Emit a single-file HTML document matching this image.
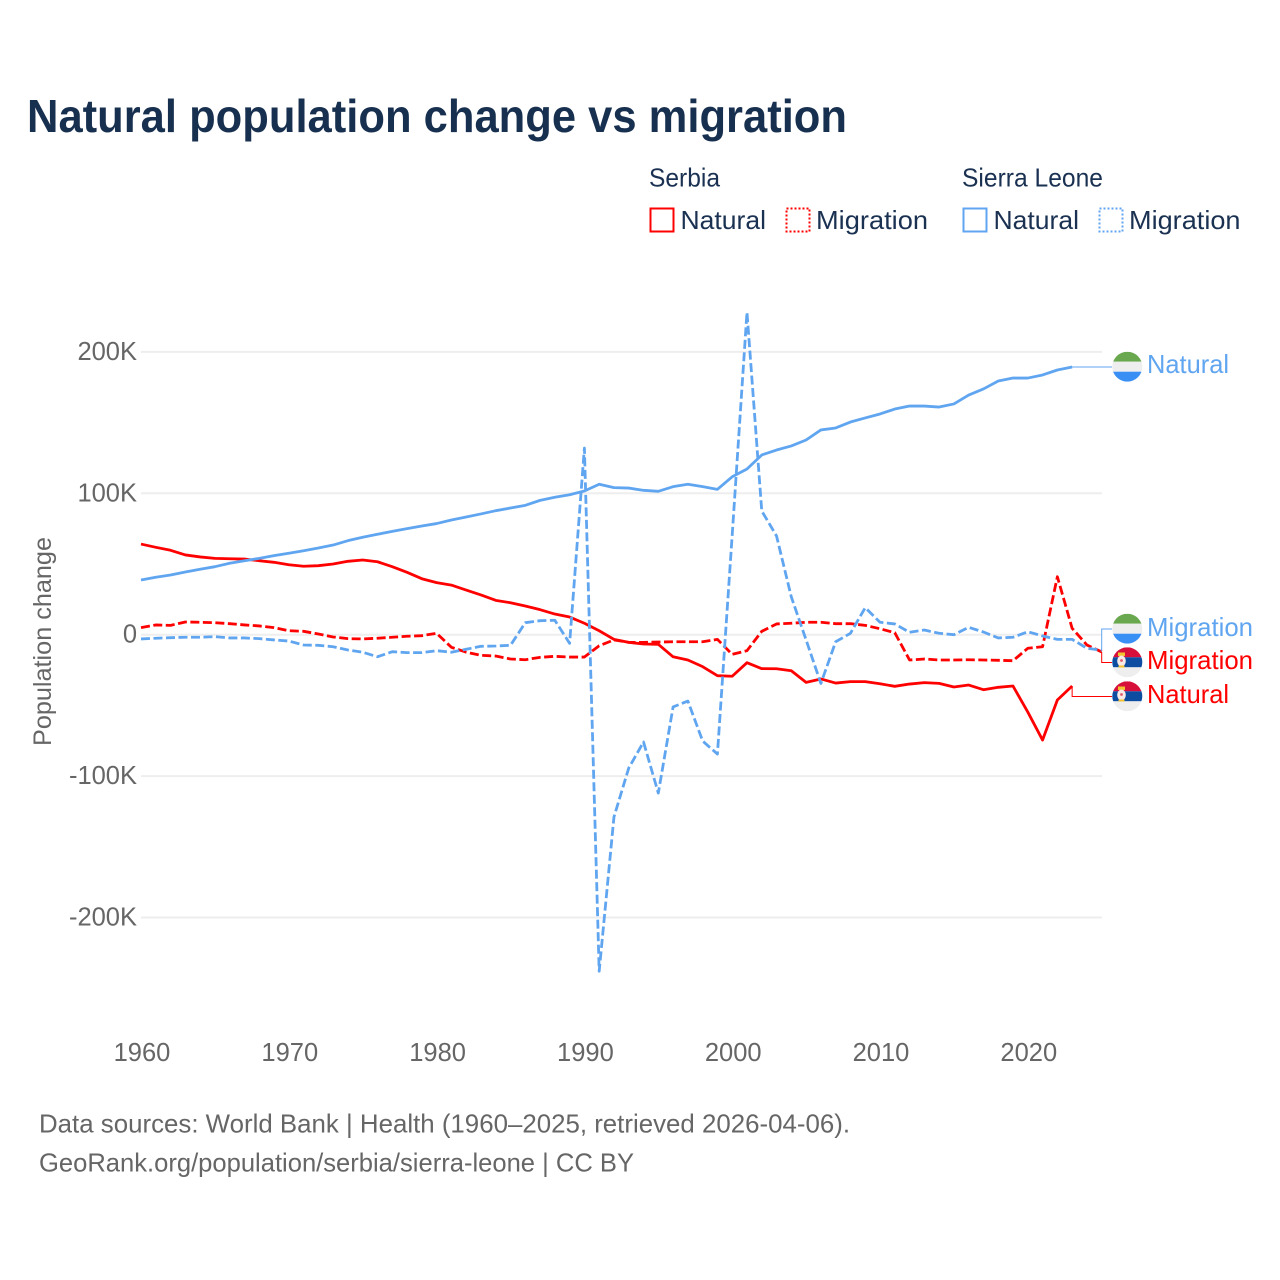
<!DOCTYPE html>
<html lang="en">
<head>
<meta charset="utf-8">
<title>Natural population change vs migration</title>
<style>
html,body{margin:0;padding:0;background:#fff;width:1280px;height:1280px;overflow:hidden}
svg{display:block}
text{font-family:"Liberation Sans",sans-serif}
</style>
</head>
<body>
<svg id="chart" xmlns="http://www.w3.org/2000/svg" width="1280" height="1280" viewBox="0 0 1280 1280">
  <defs>
    <clipPath id="clip-a"><circle cx="1127.3" cy="366.7" r="15"/></clipPath>
    <clipPath id="clip-b"><circle cx="1127.3" cy="628.7" r="15"/></clipPath>
    <clipPath id="clip-c"><circle cx="1127.3" cy="662.3" r="15"/></clipPath>
    <clipPath id="clip-d"><circle cx="1127.3" cy="696.3" r="15"/></clipPath>
  </defs>
  <rect x="0" y="0" width="1280" height="1280" fill="#ffffff"/>
  <text x="27" y="132" font-size="46.5" font-weight="700" fill="#18304f" textLength="820" lengthAdjust="spacingAndGlyphs">Natural population change vs migration</text>

  <g font-size="26" fill="#1a3152">
    <text x="649" y="186.5" textLength="71" lengthAdjust="spacingAndGlyphs">Serbia</text>
    <text x="962" y="186.5" textLength="141" lengthAdjust="spacingAndGlyphs">Sierra Leone</text>
    <g>
      <rect x="650.5" y="208.5" width="23" height="23" fill="none" stroke="#ff0000" stroke-width="2"/>
      <text x="680.5" y="229" textLength="85.5" lengthAdjust="spacingAndGlyphs">Natural</text>
    </g>
    <g>
      <rect x="786.5" y="208.5" width="23" height="23" fill="none" stroke="#ff0000" stroke-width="2" stroke-dasharray="2,2"/>
      <text x="816" y="229" textLength="112" lengthAdjust="spacingAndGlyphs">Migration</text>
    </g>
    <g>
      <rect x="963.5" y="208.5" width="23" height="23" fill="none" stroke="#60a5f0" stroke-width="2"/>
      <text x="993.5" y="229" textLength="85.5" lengthAdjust="spacingAndGlyphs">Natural</text>
    </g>
    <g>
      <rect x="1099.5" y="208.5" width="23" height="23" fill="none" stroke="#60a5f0" stroke-width="2" stroke-dasharray="2,2"/>
      <text x="1129" y="229" textLength="111.5" lengthAdjust="spacingAndGlyphs">Migration</text>
    </g>
  </g>

  <text transform="translate(51,746) rotate(-90)" font-size="25" fill="#666666" textLength="209" lengthAdjust="spacingAndGlyphs">Population change</text>

  <g id="grid"></g>
  <g id="yticks"></g>
  <g id="xticks"></g>
  <g id="leaders"></g>
  <g id="series"></g>

  <g clip-path="url(#clip-a)">
    <rect x="1112" y="351.7" width="31" height="10" fill="#6aa84f"/>
    <rect x="1112" y="361.7" width="31" height="10" fill="#eeeeee"/>
    <rect x="1112" y="371.7" width="31" height="10" fill="#3a8ff5"/>
  </g>
  <g clip-path="url(#clip-b)">
    <rect x="1112" y="613.7" width="31" height="10" fill="#6aa84f"/>
    <rect x="1112" y="623.7" width="31" height="10" fill="#eeeeee"/>
    <rect x="1112" y="633.7" width="31" height="10" fill="#3a8ff5"/>
  </g>
  <g clip-path="url(#clip-c)">
    <rect x="1112" y="647.3" width="31" height="10" fill="#d6103a"/>
    <rect x="1112" y="657.3" width="31" height="10" fill="#0c4da2"/>
    <rect x="1112" y="667.3" width="31" height="10" fill="#eeeeee"/>
    <rect x="1118" y="652.5" width="7" height="3.5" fill="#f2c230"/>
    <ellipse cx="1121.5" cy="661" rx="4.3" ry="5.5" fill="#f7e9e6"/>
    <circle cx="1121.5" cy="660.5" r="1.4" fill="#e05a6a"/>
    <rect x="1118.5" y="665.5" width="6" height="2" fill="#f2c230"/>
  </g>
  <g clip-path="url(#clip-d)">
    <rect x="1112" y="681.3" width="31" height="10" fill="#d6103a"/>
    <rect x="1112" y="691.3" width="31" height="10" fill="#0c4da2"/>
    <rect x="1112" y="701.3" width="31" height="10" fill="#eeeeee"/>
    <rect x="1118" y="686.5" width="7" height="3.5" fill="#f2c230"/>
    <ellipse cx="1121.5" cy="695" rx="4.3" ry="5.5" fill="#f7e9e6"/>
    <circle cx="1121.5" cy="694.5" r="1.4" fill="#e05a6a"/>
    <rect x="1118.5" y="699.5" width="6" height="2" fill="#f2c230"/>
  </g>

  <g font-size="26">
    <text x="1147" y="373" fill="#60a5f0" textLength="82" lengthAdjust="spacingAndGlyphs">Natural</text>
    <text x="1147" y="636" fill="#60a5f0" textLength="106" lengthAdjust="spacingAndGlyphs">Migration</text>
    <text x="1147" y="669" fill="#ff0000" textLength="106" lengthAdjust="spacingAndGlyphs">Migration</text>
    <text x="1147" y="703" fill="#ff0000" textLength="82" lengthAdjust="spacingAndGlyphs">Natural</text>
  </g>

  <g font-size="26" fill="#666666">
    <text x="39" y="1132.5" textLength="811" lengthAdjust="spacingAndGlyphs">Data sources: World Bank | Health (1960–2025, retrieved 2026-04-06).</text>
    <text x="39" y="1171.5" textLength="595" lengthAdjust="spacingAndGlyphs">GeoRank.org/population/serbia/sierra-leone | CC BY</text>
  </g>
</svg>

<script>
const startYear = 1960;
const xTickYears = [1960, 1970, 1980, 1990, 2000, 2010, 2020];
const yTickValues = [200, 100, 0, -100, -200];
const yTickLabels = ['200K', '100K', '0', '-100K', '-200K'];

const serbiaNatural = [64.1,61.8,59.7,56.4,55.0,54.0,53.7,53.5,52.3,51.2,49.5,48.4,48.8,50.0,51.9,52.8,51.6,48.1,44.1,39.6,36.8,35.1,31.6,28.1,24.3,22.6,20.3,17.7,14.6,12.5,8.1,2.8,-3.3,-5.4,-6.6,-6.8,-15.6,-17.9,-22.6,-29.0,-29.4,-19.8,-24.0,-24.1,-25.5,-33.7,-31.3,-34.2,-33.2,-33.2,-34.7,-36.5,-34.9,-33.9,-34.4,-37.0,-35.6,-38.9,-37.2,-36.3,-54.7,-74.5,-46.2,-36.3];
const serbiaMigration = [5.0,6.9,6.6,9.0,8.8,8.5,7.8,6.9,6.2,5.0,2.8,2.4,0.5,-1.6,-2.8,-3.0,-2.5,-1.8,-1.1,-0.7,1.0,-8.9,-12.4,-14.6,-15.1,-17.2,-17.7,-16.0,-15.3,-15.8,-15.8,-7.8,-3.7,-5.4,-5.4,-5.2,-5.0,-5.0,-5.0,-3.3,-13.9,-11.3,2.4,7.6,8.1,8.8,8.8,7.8,7.8,6.6,4.2,1.4,-17.9,-17.2,-17.9,-17.9,-17.7,-17.9,-18.1,-18.4,-9.6,-8.5,41.0,4.5,-7.3,-12.2];
const sierraLeoneNatural = [38.7,40.6,42.2,44.3,46.3,48.1,50.5,52.3,54.0,55.9,57.6,59.4,61.3,63.4,66.5,68.9,71.0,73.1,75.0,76.9,78.6,81.1,83.2,85.4,87.7,89.6,91.5,95.0,97.2,99.0,101.6,106.4,104.0,103.7,102.1,101.4,104.7,106.4,104.7,102.8,111.7,117.2,127.1,130.6,133.5,137.7,144.8,146.2,150.4,153.3,156.1,159.6,161.7,161.7,161.0,163.2,169.5,173.8,179.4,181.5,181.5,183.7,187.2,189.3];
const sierraLeoneMigration = [-3.0,-2.5,-2.1,-1.8,-1.8,-1.4,-2.3,-2.3,-2.8,-3.7,-4.5,-7.3,-7.5,-8.5,-10.8,-12.4,-15.6,-12.0,-12.7,-12.7,-11.3,-12.4,-10.3,-8.2,-8.0,-7.5,8.5,9.9,10.2,-6.1,132.0,-238.0,-128.9,-94.3,-75.9,-112.0,-51.1,-46.9,-75.2,-84.4,70.5,228.0,87.5,69.8,26.7,-3.7,-34.5,-5.0,1.0,19.1,8.8,7.6,1.7,3.3,1.0,0.0,5.2,1.9,-2.3,-1.8,2.1,-0.9,-3.3,-3.3,-9.6,-11.0];

const SVGNS = 'http://www.w3.org/2000/svg';
const RED = '#ff0000';
const BLUE = '#60a5f0';
function xScale(year) { return 141 + 14.78 * (year - 1960); }
function yScale(v) { return 634.7 - 1.414 * v; }
function linePoints(values) {
  return values.map(function (v, i) {
    return xScale(startYear + i).toFixed(2) + ',' + yScale(v).toFixed(2);
  }).join(' ');
}

const gridGroup = document.getElementById('grid');
const yTickGroup = document.getElementById('yticks');
const xTickGroup = document.getElementById('xticks');
const leaderGroup = document.getElementById('leaders');
const seriesGroup = document.getElementById('series');

yTickValues.forEach(function (v, i) {
  const g = document.createElementNS(SVGNS, 'line');
  
  
  g.setAttribute('x1', 141);
  g.setAttribute('x2', 1102);
  g.setAttribute('y1', yScale(v));
  g.setAttribute('y2', yScale(v));
  g.setAttribute('stroke', '#eeeeee');
  g.setAttribute('stroke-width', 2);
  gridGroup.appendChild(g);

  const t = document.createElementNS(SVGNS, 'text');
  
  
  t.setAttribute('x', 137);
  t.setAttribute('y', yScale(v) + 8);
  t.setAttribute('text-anchor', 'end');
  t.setAttribute('font-size', '25.5');
  t.setAttribute('fill', '#666666');
  t.textContent = yTickLabels[i];
  yTickGroup.appendChild(t);
});

xTickYears.forEach(function (year) {
  const t = document.createElementNS(SVGNS, 'text');
  
  
  t.setAttribute('x', xScale(year) + 1);
  t.setAttribute('y', 1061);
  t.setAttribute('text-anchor', 'middle');
  t.setAttribute('font-size', '25.5');
  t.setAttribute('fill', '#666666');
  t.textContent = String(year);
  xTickGroup.appendChild(t);
});

function addLeader(values, labelY, color, name) {
  const last = values.length - 1;
  const px = xScale(startYear + last);
  const py = yScale(values[last]);
  const p = document.createElementNS(SVGNS, 'polyline');
  
  
  p.setAttribute('points', px + ',' + py + ' ' + px + ',' + labelY + ' 1112,' + labelY);
  p.setAttribute('fill', 'none');
  p.setAttribute('stroke', color);
  p.setAttribute('stroke-width', 1);
  leaderGroup.appendChild(p);
}
addLeader(sierraLeoneNatural, 367, BLUE, 'leader-sierra-leone-natural');
addLeader(sierraLeoneMigration, 629, BLUE, 'leader-sierra-leone-migration');
addLeader(serbiaMigration, 662.5, RED, 'leader-serbia-migration');
addLeader(serbiaNatural, 696.5, RED, 'leader-serbia-natural');

function addSeries(values, color, dashed, name) {
  const p = document.createElementNS(SVGNS, 'polyline');
  
  
  p.setAttribute('points', linePoints(values));
  p.setAttribute('fill', 'none');
  p.setAttribute('stroke', color);
  p.setAttribute('stroke-width', 2.8);
  p.setAttribute('stroke-linejoin', 'round');
  if (dashed) { p.setAttribute('stroke-dasharray', '9,3.5'); }
  seriesGroup.appendChild(p);
}
addSeries(serbiaNatural, RED, false, 'line-serbia-natural');
addSeries(serbiaMigration, RED, true, 'line-serbia-migration');
addSeries(sierraLeoneNatural, BLUE, false, 'line-sierra-leone-natural');
addSeries(sierraLeoneMigration, BLUE, true, 'line-sierra-leone-migration');
</script>
</body>
</html>
